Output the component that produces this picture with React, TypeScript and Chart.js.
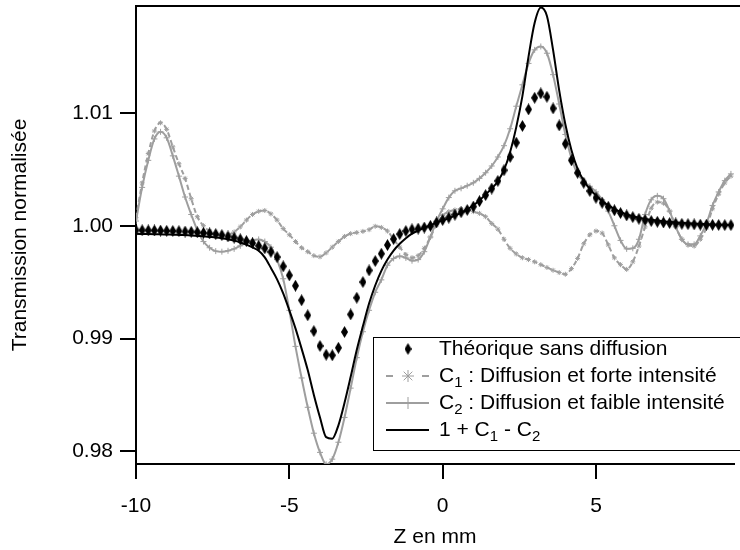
import React, { useEffect, useRef } from 'react';
import { Chart, registerables } from 'chart.js';

Chart.register(...registerables);

// Z positions (mm)
const zValues = [
  -10, -9.8, -9.6, -9.4, -9.2, -9, -8.8, -8.6, -8.4, -8.2,
  -8, -7.8, -7.6, -7.4, -7.2, -7, -6.8, -6.6, -6.4, -6.2,
  -6, -5.8, -5.6, -5.4, -5.2, -5, -4.8, -4.6, -4.4, -4.2,
  -4, -3.8, -3.6, -3.4, -3.2, -3, -2.8, -2.6, -2.4, -2.2,
  -2, -1.8, -1.6, -1.4, -1.2, -1, -0.8, -0.6, -0.4, -0.2,
  0, 0.2, 0.4, 0.6, 0.8, 1, 1.2, 1.4, 1.6, 1.8,
  2, 2.2, 2.4, 2.6, 2.8, 3, 3.2, 3.4, 3.6, 3.8,
  4, 4.2, 4.4, 4.6, 4.8, 5, 5.2, 5.4, 5.6, 5.8,
  6, 6.2, 6.4, 6.6, 6.8, 7, 7.2, 7.4, 7.6, 7.8,
  8, 8.2, 8.4, 8.6, 8.8, 9, 9.2, 9.4,
];

// Théorique sans diffusion
const theory = [
  0.9996, 0.9996, 0.99959, 0.99958, 0.99957, 0.99955, 0.99954, 0.99952, 0.99949, 0.99946,
  0.99942, 0.99937, 0.99932, 0.99926, 0.99917, 0.99905, 0.99894, 0.9988, 0.99864, 0.99846,
  0.99822, 0.998, 0.99768, 0.99722, 0.9964, 0.9956, 0.99468, 0.99339, 0.99206, 0.99066,
  0.98934, 0.98856, 0.98851, 0.98918, 0.99058, 0.99214, 0.99362, 0.99501, 0.99604, 0.99687,
  0.99752, 0.99829, 0.99882, 0.99926, 0.99953, 0.99968, 0.99975, 0.99984, 0.99999, 1.00029,
  1.00051, 1.00072, 1.00098, 1.0012, 1.0014, 1.0017, 1.00218, 1.00272, 1.0033, 1.00398,
  1.00492, 1.0061, 1.00737, 1.00885, 1.01032, 1.01135, 1.01174, 1.01144, 1.01041, 1.0089,
  1.00727, 1.0058, 1.0047, 1.00381, 1.00308, 1.00248, 1.00204, 1.00168, 1.00137, 1.00113,
  1.00092, 1.00077, 1.00062, 1.00051, 1.00042, 1.00035, 1.00029, 1.00024, 1.0002, 1.00017,
  1.00014, 1.00012, 1.0001, 1.00009, 1.00008, 1.00007, 1.00006, 1.00006,
];

// C1 : Diffusion et forte intensité
const c1 = [
  1.00071, 1.0038, 1.0064, 1.0084, 1.00913, 1.00855, 1.007, 1.0055, 1.0042, 1.0024,
  1.0008, 1.0, 0.99953, 0.99925, 0.9991, 0.9992, 0.99945, 0.9999, 1.0005, 1.001,
  1.00128, 1.00135, 1.00105, 1.0005, 0.99975, 0.9992, 0.9986, 0.99805, 0.9977, 0.99735,
  0.99725, 0.9976, 0.9981, 0.9986, 0.99905, 0.9993, 0.9994, 0.9995, 0.99965, 0.99995,
  0.99985, 0.99953, 0.9988, 0.9981, 0.99745, 0.99716, 0.99735, 0.998, 0.999, 1.0001,
  1.0009, 1.00125, 1.0014, 1.0015, 1.0014, 1.00125, 1.0011, 1.0008, 1.0002, 0.9997,
  0.9988, 0.998, 0.9975, 0.99716, 0.997, 0.9968, 0.99655, 0.9963, 0.99605, 0.99585,
  0.9957, 0.9962, 0.9971, 0.9984, 0.9992, 0.99953, 0.99935, 0.9983, 0.99715, 0.99655,
  0.99613, 0.9968, 0.9982, 0.9999, 1.00155, 1.0021, 1.002, 1.0013, 0.9999, 0.9988,
  0.9983, 0.9982, 0.9988, 0.9998, 1.0015, 1.0028, 1.0038, 1.0044,
];

// C2 : Diffusion et faible intensité
const c2 = [
  1.00042, 1.0034, 1.0058, 1.0077, 1.00833, 1.0078, 1.0062, 1.0044, 1.00255, 1.001,
  0.9996, 0.9986, 0.99805, 0.99775, 0.9977, 0.99778, 0.99795, 0.99822, 0.99852, 0.99872,
  0.99879, 0.9986, 0.9981, 0.997, 0.9953, 0.9925, 0.9893, 0.9865, 0.9839, 0.9816,
  0.9799, 0.97884, 0.9793, 0.9808, 0.983, 0.9856, 0.9883, 0.9906, 0.9925, 0.9941,
  0.9952, 0.9965, 0.9971, 0.9973, 0.99715, 0.9969, 0.997, 0.9977, 0.999, 1.0004,
  1.0015, 1.0025, 1.0031, 1.00332, 1.00355, 1.00381, 1.0042, 1.0047, 1.0053, 1.0061,
  1.0071, 1.0086, 1.0106, 1.0125, 1.0144, 1.0156, 1.0159, 1.0153, 1.0134, 1.0108,
  1.0081, 1.006, 1.0046, 1.00395, 1.0035, 1.003, 1.0023, 1.0013, 1.0, 0.9987,
  0.99795, 0.998, 0.9988, 1.001, 1.0023, 1.00265, 1.0024, 1.0013, 0.9999, 0.9988,
  0.99835, 0.99835, 0.9991, 1.0002, 1.0018, 1.003, 1.004, 1.0046,
];

// 1 + C1 - C2
const combo = [
  0.99928, 0.99927, 0.99926, 0.99925, 0.99924, 0.99922, 0.99921, 0.99919, 0.99917, 0.99914,
  0.9991, 0.99906, 0.99901, 0.99896, 0.99889, 0.9988, 0.99868, 0.99852, 0.99832, 0.99808,
  0.99778, 0.9972, 0.99625, 0.99525, 0.994, 0.9925, 0.9909, 0.9891, 0.9872, 0.985,
  0.983, 0.98125, 0.98112, 0.9823, 0.9843, 0.9866, 0.989, 0.9911, 0.9931, 0.9947,
  0.996, 0.997, 0.9978, 0.9984, 0.9989, 0.9993, 0.99958, 0.99982, 1.00005, 1.00028,
  1.00048, 1.00068, 1.0009, 1.00115, 1.00145, 1.00182, 1.00225, 1.00278, 1.0033, 1.00395,
  1.00495, 1.00655, 1.00875, 1.0115, 1.015, 1.018, 1.01935, 1.0186, 1.0156, 1.012,
  1.009, 1.0067, 1.00505, 1.004, 1.00325, 1.00268, 1.00218, 1.0018, 1.00148, 1.00122,
  1.001, 1.00084, 1.00071, 1.00061, 1.00053, 1.00046, 1.0004, 1.00035, 1.0003, 1.00026,
  1.00022, 1.00019, 1.00016, 1.00014, 1.00012, 1.0001, 1.00008, 1.00007,
];

const xTicks = [-10, -5, 0, 5];
const yTicks = [0.98, 0.99, 1.0, 1.01];
const seriesLabels = [
  'Théorique sans diffusion',
  'C₁ : Diffusion et forte intensité',
  'C₂ : Diffusion et faible intensité',
  '1 + C₁ - C₂',
];
const xTitle = 'Z en mm';
const yTitle = 'Transmission normalisée';

const GRAY = '#9e9e9e';
const FONT = "'Liberation Sans', Arial, sans-serif";
const FS = 21;

function makeDiamond(): HTMLCanvasElement {
  const c = document.createElement('canvas');
  c.width = 7;
  c.height = 12;
  const g = c.getContext('2d')!;
  g.fillStyle = '#000';
  g.beginPath();
  g.moveTo(3.5, 0);
  g.lineTo(7, 6);
  g.lineTo(3.5, 12);
  g.lineTo(0, 6);
  g.closePath();
  g.fill();
  return c;
}

function drawRich(ctx: CanvasRenderingContext2D, text: string, x: number, y: number) {
  // renders ₁ / ₂ as real lowered small digits
  const parts: { t: string; sub: boolean }[] = [];
  for (const ch of text) {
    const sub = ch === '₁' || ch === '₂';
    const t = ch === '₁' ? '1' : ch === '₂' ? '2' : ch;
    const last = parts[parts.length - 1];
    if (last && last.sub === sub) last.t += t;
    else parts.push({ t, sub });
  }
  let cx = x;
  for (const p of parts) {
    if (p.sub) {
      ctx.font = `${Math.round(FS * 0.72)}px ${FONT}`;
      ctx.fillText(p.t, cx, y + 7);
    } else {
      ctx.font = `${FS}px ${FONT}`;
      ctx.fillText(p.t, cx, y);
    }
    cx += ctx.measureText(p.t).width;
  }
}

const framePlugin = {
  id: 'topFrame',
  afterDraw(chart: any) {
    const { ctx, chartArea } = chart;
    ctx.save();
    ctx.strokeStyle = '#000';
    ctx.lineWidth = 2;
    ctx.beginPath();
    ctx.moveTo(chartArea.left - 1, chartArea.top);
    ctx.lineTo(chart.width, chartArea.top);
    ctx.stroke();
    ctx.restore();
  },
};

const legendPlugin = {
  id: 'boxLegend',
  afterDraw(chart: any) {
    const { ctx } = chart;
    const box = { left: 373, top: 337, right: chart.width + 5, bottom: 450 };
    const rows = [349, 376, 403, 430];
    const sx0 = 386, sx1 = 429, mx = 408, tx = 439;
    ctx.save();
    ctx.fillStyle = '#fff';
    ctx.fillRect(box.left, box.top, box.right - box.left, box.bottom - box.top);
    ctx.strokeStyle = '#000';
    ctx.lineWidth = 1;
    ctx.strokeRect(box.left + 0.5, box.top + 0.5, box.right - box.left, box.bottom - box.top);
    chart.data.datasets.forEach((ds: any, i: number) => {
      const y = rows[i];
      ctx.save();
      if (ds.showLine !== false) {
        ctx.strokeStyle = ds.borderColor;
        ctx.lineWidth = ds.borderWidth;
        if (ds.borderDash && ds.borderDash.length) ctx.setLineDash([7, 29]);
        ctx.beginPath();
        ctx.moveTo(sx0, y);
        ctx.lineTo(sx1, y);
        ctx.stroke();
        ctx.setLineDash([]);
      }
      const ps = ds.pointStyle;
      if (ps && typeof ps !== 'string') {
        ctx.drawImage(ps, mx - ps.width / 2, y - ps.height / 2);
      } else if (ps === 'star' || ps === 'cross') {
        const r = 6;
        ctx.strokeStyle = ds.pointBorderColor || ds.borderColor;
        ctx.lineWidth = 1;
        ctx.beginPath();
        ctx.moveTo(mx - r, y);
        ctx.lineTo(mx + r, y);
        ctx.moveTo(mx, y - r);
        ctx.lineTo(mx, y + r);
        if (ps === 'star') {
          const d = r * 0.72;
          ctx.moveTo(mx - d, y - d);
          ctx.lineTo(mx + d, y + d);
          ctx.moveTo(mx - d, y + d);
          ctx.lineTo(mx + d, y - d);
        }
        ctx.stroke();
      }
      ctx.restore();
      ctx.fillStyle = '#000';
      ctx.textBaseline = 'middle';
      ctx.textAlign = 'left';
      drawRich(ctx, ds.label, tx, y);
    });
    ctx.restore();
  },
};

export default function App() {
  const ref = useRef<HTMLCanvasElement>(null);

  useEffect(() => {
    if (!ref.current) return;
    const diamond = makeDiamond();
    const pts = (arr: number[]) => zValues.map((z, i) => ({ x: z, y: arr[i] }));
    const tickFont = { size: FS, family: FONT };
    const chart = new Chart(ref.current, {
      type: 'line',
      data: {
        datasets: [
          {
            label: seriesLabels[0],
            data: pts(theory),
            showLine: false,
            pointStyle: diamond as any,
            pointRadius: 5,
            borderColor: '#000',
            backgroundColor: '#000',
            order: 0,
          },
          {
            label: seriesLabels[1],
            data: pts(c1),
            borderColor: GRAY,
            borderWidth: 2,
            borderDash: [5, 3],
            cubicInterpolationMode: 'monotone',
            pointStyle: 'star',
            pointRadius: 2.5,
            pointBorderWidth: 1,
            pointBorderColor: GRAY,
            pointBackgroundColor: GRAY,
            order: 3,
          },
          {
            label: seriesLabels[2],
            data: pts(c2),
            borderColor: GRAY,
            borderWidth: 2,
            cubicInterpolationMode: 'monotone',
            pointStyle: 'cross',
            pointRadius: 3,
            pointBorderWidth: 1,
            pointBorderColor: GRAY,
            pointBackgroundColor: GRAY,
            order: 2,
          },
          {
            label: seriesLabels[3],
            data: pts(combo),
            borderColor: '#000',
            borderWidth: 2,
            cubicInterpolationMode: 'monotone',
            pointRadius: 0,
            order: 1,
          },
        ],
      } as any,
      options: {
        animation: false,
        responsive: false,
        layout: { padding: { top: 6, right: 0, left: 0, bottom: 0 } },
        plugins: { legend: { display: false }, tooltip: { enabled: false } },
        scales: {
          x: {
            type: 'linear',
            min: -10,
            max: 9.5,
            afterBuildTicks: (s: any) => {
              s.ticks = xTicks.map((v) => ({ value: v }));
            },
            afterFit: (s: any) => {
              s.height = 86;
              s.paddingLeft = 0;
              s.paddingRight = 0;
            },
            border: { display: true, color: '#000', width: 2 },
            grid: { drawOnChartArea: false, color: '#000', lineWidth: 2, tickLength: 15 },
            ticks: {
              color: '#000',
              font: tickFont,
              padding: 15,
              maxRotation: 0,
              autoSkip: false,
              callback: (v: any) => String(v),
            },
            title: {
              display: true,
              text: xTitle,
              color: '#000',
              font: tickFont,
              padding: { top: 0, bottom: 0 },
            },
          },
          y: {
            type: 'linear',
            min: 0.97887,
            max: 1.01949,
            afterBuildTicks: (s: any) => {
              s.ticks = yTicks.map((v) => ({ value: v }));
            },
            afterFit: (s: any) => {
              s.width = 136;
              s.paddingTop = 0;
              s.paddingBottom = 0;
            },
            border: { display: true, color: '#000', width: 2 },
            grid: { drawOnChartArea: false, color: '#000', lineWidth: 2, tickLength: 16 },
            ticks: {
              color: '#000',
              font: tickFont,
              padding: 7,
              autoSkip: false,
              callback: (v: any) => Number(v).toFixed(2),
            },
            title: {
              display: true,
              text: yTitle,
              color: '#000',
              font: tickFont,
              padding: { top: 8, bottom: 0 },
            },
          },
        },
      } as any,
      plugins: [framePlugin, legendPlugin],
    });
    return () => chart.destroy();
  }, []);

  return (
    <div style={{ position: 'absolute', left: 0, top: 0, width: 740, height: 550 }}>
      <canvas ref={ref} width={740} height={550} style={{ width: 740, height: 550 }} />
    </div>
  );
}
